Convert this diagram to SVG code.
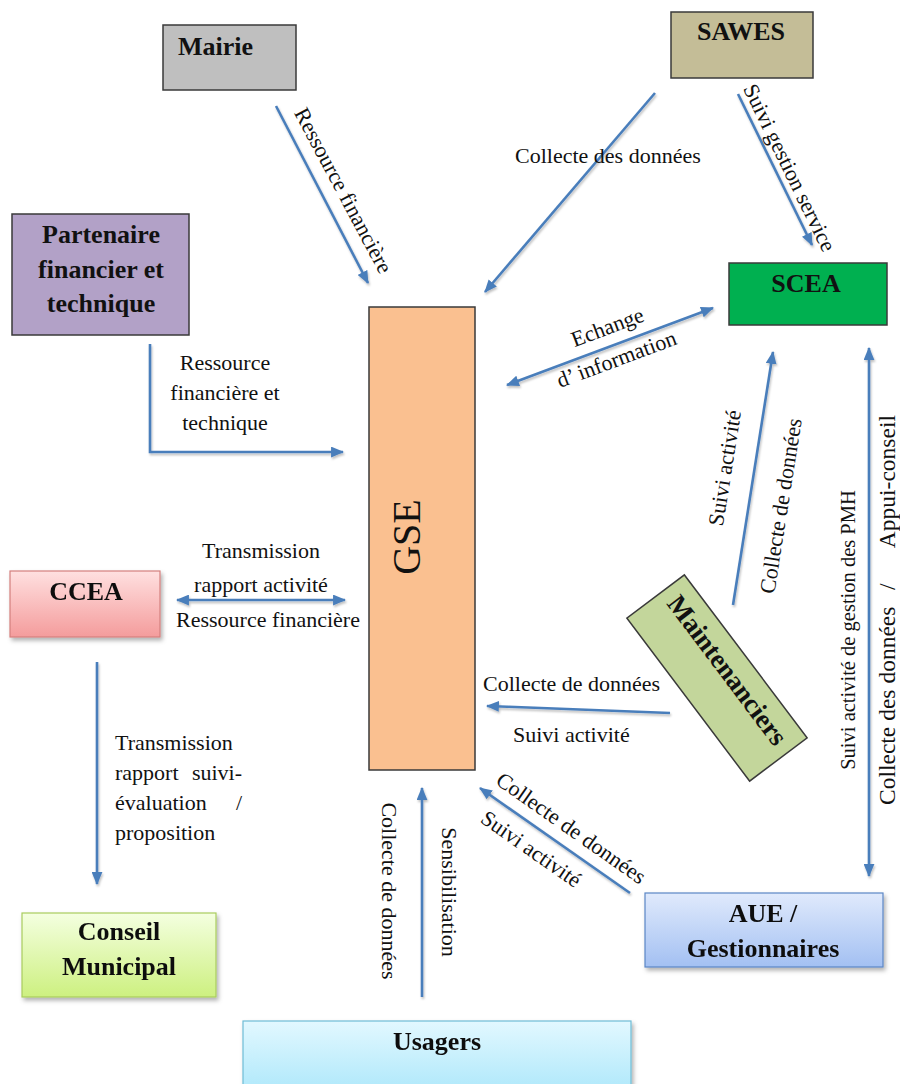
<svg xmlns="http://www.w3.org/2000/svg" width="900" height="1084" viewBox="0 0 900 1084">
  <defs>
    <style>
      .box { stroke: #3a3a3a; stroke-width: 1.5; }
      .node { font-family: "Liberation Serif", "Times New Roman", serif; font-weight: bold; font-size: 26px; fill: #111; }
      .lbl { font-family: "Liberation Serif", "Times New Roman", serif; font-size: 22px; fill: #111; }
      .wire { fill: none; stroke: #4a7ebb; stroke-width: 2.6; }
      .one { marker-end: url(#head); }
      .two { marker-start: url(#head); marker-end: url(#head); }
    </style>
    <marker id="head" viewBox="0 0 12 10" refX="11" refY="5" markerWidth="13" markerHeight="11" markerUnits="userSpaceOnUse" orient="auto-start-reverse">
      <path d="M0,0 L12,5 L0,10 Z" fill="#4a7ebb"/>
    </marker>
    <linearGradient id="gPink" x1="0" y1="0" x2="0" y2="1">
      <stop offset="0" stop-color="#ffe0e0"/>
      <stop offset="1" stop-color="#f49c9c"/>
    </linearGradient>
    <linearGradient id="gLime" x1="0" y1="0" x2="0" y2="1">
      <stop offset="0" stop-color="#f4ffe0"/>
      <stop offset="1" stop-color="#cdf080"/>
    </linearGradient>
    <linearGradient id="gSky" x1="0" y1="0" x2="0" y2="1">
      <stop offset="0" stop-color="#e2f8ff"/>
      <stop offset="1" stop-color="#a8e6fa"/>
    </linearGradient>
    <linearGradient id="gBlue" x1="0" y1="0" x2="0" y2="1">
      <stop offset="0" stop-color="#e0eafc"/>
      <stop offset="1" stop-color="#a3c0f2"/>
    </linearGradient>
    <filter id="shade" x="-10%" y="-10%" width="130%" height="140%">
      <feDropShadow dx="2" dy="3" stdDeviation="2" flood-color="#000" flood-opacity="0.3"/>
    </filter>
    <filter id="wireShade" x="-10%" y="-10%" width="120%" height="120%">
      <feDropShadow dx="1" dy="2" stdDeviation="1.2" flood-color="#000" flood-opacity="0.25"/>
    </filter>
  </defs>

  <rect width="900" height="1084" fill="#ffffff"/>

  <!-- connectors -->
  <g id="connectors">
    <g filter="url(#wireShade)">
      <path class="wire one" d="M276,106 L368,283"/>
      <path class="wire one" d="M655,93 L485,292"/>
      <path class="wire one" d="M738,94 L812,245"/>
      <path class="wire two" d="M507,385 L713,308"/>
      <path class="wire one" d="M150,344 V452 H343"/>
      <path class="wire two" d="M177,600 H345"/>
      <path class="wire one" d="M97,662 V884"/>
      <path class="wire one" d="M670,713 L487,706"/>
      <path class="wire one" d="M733,605 L773,352"/>
      <path class="wire two" d="M869,348 V876"/>
      <path class="wire one" d="M630,893 L480,788"/>
      <path class="wire one" d="M422,997 V788"/>
    </g>

    <!-- connector labels -->
    <text class="lbl" text-anchor="middle" transform="translate(337,194) rotate(62)">Ressource  financière</text>
    <text class="lbl" x="515" y="163">Collecte des données</text>
    <text class="lbl" text-anchor="middle" transform="translate(783,171) rotate(64)">Suivi gestion service</text>
    <text class="lbl" text-anchor="middle" transform="translate(610,334) rotate(-20.5)">Echange</text>
    <text class="lbl" text-anchor="middle" transform="translate(619,366) rotate(-20.5)">d’ information</text>

    <text class="lbl" text-anchor="middle" x="225" y="370">Ressource</text>
    <text class="lbl" text-anchor="middle" x="225" y="400">financière et</text>
    <text class="lbl" text-anchor="middle" x="225" y="430">technique</text>

    <text class="lbl" text-anchor="middle" x="261" y="558">Transmission</text>
    <text class="lbl" text-anchor="middle" x="261" y="592">rapport activité</text>
    <text class="lbl" text-anchor="middle" x="268" y="627">Ressource financière</text>

    <text class="lbl" x="115" y="750">Transmission</text>
    <text class="lbl" x="115" y="780">rapport</text>
    <text class="lbl" x="242" y="780" text-anchor="end">suivi-</text>
    <text class="lbl" x="115" y="810">évaluation</text>
    <text class="lbl" x="242" y="810" text-anchor="end">/</text>
    <text class="lbl" x="115" y="840">proposition</text>

    <text class="lbl" x="483" y="691">Collecte de données</text>
    <text class="lbl" x="513" y="742">Suivi activité</text>

    <text class="lbl" text-anchor="middle" transform="translate(732,469) rotate(-81)">Suivi activité</text>
    <text class="lbl" text-anchor="middle" transform="translate(788,507) rotate(-81)">Collecte de données</text>

    <text class="lbl" text-anchor="middle" style="font-size:20.5px" transform="translate(855,630) rotate(-90)">Suivi activité de gestion des PMH</text>
    <g transform="translate(895,805) rotate(-90)" style="font-size:23.5px">
      <text class="lbl" x="0" y="0" style="font-size:23.5px">Collecte des données</text>
      <text class="lbl" x="215" y="0" style="font-size:23.5px">/</text>
      <text class="lbl" x="390" y="0" style="font-size:23.5px" text-anchor="end">Appui-conseil</text>
    </g>

    <text class="lbl" text-anchor="middle" transform="translate(567,834) rotate(35)">Collecte de données</text>
    <text class="lbl" text-anchor="middle" transform="translate(527,855) rotate(35)">Suivi activité</text>

    <text class="lbl" text-anchor="middle" transform="translate(382,891) rotate(90)">Collecte de données</text>
    <text class="lbl" text-anchor="middle" transform="translate(442,892) rotate(90)">Sensibilisation</text>
  </g>

  <!-- nodes -->
  <g id="mairie">
    <rect class="box" x="163" y="25" width="133" height="65" fill="#bfbfbf"/>
    <text class="node" x="178" y="55">Mairie</text>
  </g>

  <g id="sawes">
    <rect class="box" x="671" y="12" width="142" height="66" fill="#c4bd97"/>
    <text class="node" x="741" y="40" text-anchor="middle">SAWES</text>
  </g>

  <g id="scea">
    <rect class="box" x="729" y="263" width="158" height="62" fill="#00b050"/>
    <text class="node" x="806" y="292" text-anchor="middle">SCEA</text>
  </g>

  <g id="partenaire">
    <rect class="box" x="12" y="214" width="177" height="121" fill="#b2a1c7"/>
    <text class="node" x="101" y="243" text-anchor="middle">Partenaire</text>
    <text class="node" x="101" y="278" text-anchor="middle">financier et</text>
    <text class="node" x="101" y="312" text-anchor="middle">technique</text>
  </g>

  <g id="gse">
    <rect class="box" x="369" y="307" width="106" height="463" fill="#fac090"/>
    <text x="420" y="537" transform="rotate(-90 420 537)" text-anchor="middle" font-family="Liberation Serif, Times New Roman, serif" font-size="40" fill="#111">GSE</text>
  </g>

  <g id="ccea" filter="url(#shade)">
    <rect x="10" y="571" width="150" height="66" fill="url(#gPink)" stroke="#d47f7d" stroke-width="1.2"/>
    <text class="node" x="86" y="600" text-anchor="middle">CCEA</text>
  </g>

  <g id="conseil" filter="url(#shade)">
    <rect x="22" y="913" width="194" height="84" fill="url(#gLime)" stroke="#a9cc5e" stroke-width="1.2"/>
    <text class="node" x="119" y="940" text-anchor="middle">Conseil</text>
    <text class="node" x="119" y="975" text-anchor="middle">Municipal</text>
  </g>

  <g id="maintenanciers">
    <g transform="translate(717,678) rotate(53)">
      <rect class="box" x="-102" y="-36" width="204" height="72" fill="#c3d69b"/>
      <text class="node" x="0" y="-4" text-anchor="middle" style="font-size:27px">Maintenanciers</text>
    </g>
  </g>

  <g id="aue" filter="url(#shade)">
    <rect x="645" y="893" width="238" height="74" fill="url(#gBlue)" stroke="#5b86c5" stroke-width="1.2"/>
    <text class="node" x="763" y="922" text-anchor="middle">AUE /</text>
    <text class="node" x="763" y="957" text-anchor="middle">Gestionnaires</text>
  </g>

  <g id="usagers" filter="url(#shade)">
    <rect x="243" y="1021" width="388" height="80" fill="url(#gSky)" stroke="#6fbcd6" stroke-width="1.2"/>
    <text class="node" x="437" y="1050" text-anchor="middle">Usagers</text>
  </g>
</svg>
